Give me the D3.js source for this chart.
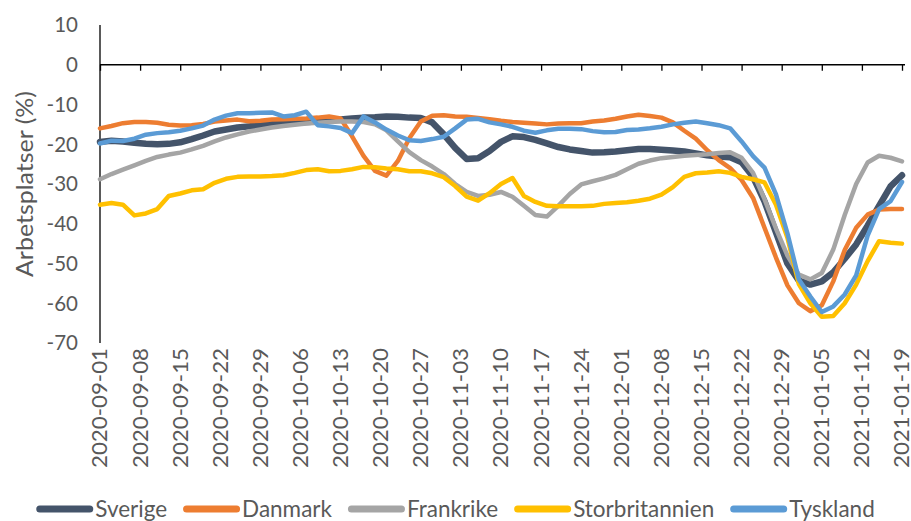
<!DOCTYPE html>
<html>
<head>
<meta charset="utf-8">
<script src="https://cdn.jsdelivr.net/npm/d3@7"></script>
<style>
  body { margin: 0; background: #fff; }
  text { font-family: Lato, 'Open Sans', sans-serif; fill: #595959; }
</style>
</head>
<body>
<div id="chart"></div>
<script>
// every second day from 2020-09-01 to 2021-01-19
let start = new Date(Date.UTC(2020, 8, 1))
let end = new Date(Date.UTC(2021, 0, 19))
let dates = d3.utcDay.range(start, d3.utcDay.offset(end, 1), 2)
let tickDates = d3.utcDay.range(start, d3.utcDay.offset(end, 1), 7)

let yTicks = [10, 0, -10, -20, -30, -40, -50, -60, -70]

let names = ['Sverige', 'Danmark', 'Frankrike', 'Storbritannien', 'Tyskland']

let sverige = [
  -19.4, -19.1, -19.3, -19.6, -19.9, -20, -19.9, -19.5, -18.7, -17.8,
  -16.8, -16.3, -15.8, -15.5, -15.2, -14.9, -14.6, -14.5, -14.4, -14.3,
  -14, -13.8, -13.5, -13.3, -13.2, -13, -13.1, -13.3, -13.4, -14.5,
  -17.5, -20.9, -23.7, -23.5, -21.7, -19.4, -18, -18.2, -18.9, -19.8,
  -20.7, -21.3, -21.7, -22.1, -22, -21.8, -21.5, -21.2, -21.2, -21.4,
  -21.6, -21.8, -22.3, -22.8, -23.1, -23.3, -24.5, -28.2, -34.4, -42.2,
  -50, -54.3, -55.3, -54.5, -52.2, -48.8, -45.2, -40.5, -35.5, -30.6, -27.8
]
let danmark = [
  -16, -15.4, -14.7, -14.4, -14.4, -14.6, -15.1, -15.3, -15.2, -14.9,
  -14.3, -14, -13.8, -14.2, -14.1, -13.8, -13.7, -13.6, -13.5, -13.3,
  -13, -13.5, -18, -22.9, -26.7, -27.9, -24.2, -18.5, -14.3, -12.8,
  -12.7, -13, -13.1, -13.4, -13.7, -14.1, -14.4, -14.6, -14.8, -15,
  -14.8, -14.7, -14.7, -14.3, -14, -13.6, -13, -12.6, -12.9, -13.3,
  -14.5, -16.6, -18.6, -21.5, -24, -26, -29, -33.5, -41, -48.5,
  -55.5, -60, -62, -60.5, -54.5, -46.6, -41, -37.7, -36.4, -36.3, -36.3
]
let frankrike = [
  -28.8, -27.5, -26.4, -25.3, -24.2, -23.2, -22.6, -22.1, -21.3, -20.4,
  -19.3, -18.3, -17.5, -16.8, -16.3, -15.8, -15.4, -15.1, -14.8, -14.6,
  -14.4, -14.3, -14.3, -14.4, -15, -16.5, -19.3, -22, -24, -25.6,
  -27.5, -30, -32, -33, -32.7, -32, -33.2, -35.5, -37.8, -38.2,
  -35.5, -32.5, -30.1, -29.3, -28.6, -27.7, -26.3, -24.9, -24.1, -23.5,
  -23.2, -22.9, -22.7, -22.5, -22.2, -22, -23.4, -27.2, -33.8, -41.2,
  -48, -52.8, -54, -52.4, -46.5, -37.8, -30, -24.6, -22.9, -23.4, -24.3
]
let storbritannien = [
  -35.2, -34.8, -35.2, -37.9, -37.4, -36.3, -33, -32.4, -31.6, -31.3,
  -29.7, -28.7, -28.2, -28.1, -28.1, -28, -27.8, -27.2, -26.5, -26.3,
  -26.8, -26.7, -26.3, -25.7, -25.8, -26.1, -26.3, -26.8, -26.8, -27.3,
  -28.3, -30.5, -33.2, -34.2, -32.3, -30, -28.5, -33, -34.5, -35.5,
  -35.6, -35.6, -35.6, -35.5, -35, -34.8, -34.6, -34.2, -33.7, -32.7,
  -30.8, -28.2, -27.3, -27.1, -26.8, -27.2, -28.2, -28.8, -29.6, -35.2,
  -43.5, -55.2, -60, -63.4, -63.2, -60, -55.3, -49.4, -44.4, -44.8, -45
]
let tyskland = [
  -19.8, -19.1, -19.2, -18.6, -17.6, -17.2, -17, -16.6, -16, -15.3,
  -13.8, -12.8, -12.2, -12.2, -12.1, -12, -13, -12.7, -11.8, -15.2,
  -15.5, -15.9, -17.2, -13, -14.5, -16.3, -17.8, -19, -19.2, -18.7,
  -18.1, -16, -13.8, -13.6, -14.5, -15, -15.6, -16.6, -17.1, -16.5,
  -16.1, -16.1, -16.2, -16.7, -17, -16.9, -16.4, -16.3, -16, -15.6,
  -15, -14.6, -14.3, -14.7, -15.2, -16, -19.3, -23, -25.9, -32.6,
  -42.4, -54, -58.3, -62.2, -60.8, -57.8, -53, -43, -36.3, -34.3, -29.5
]

let colors = ['#44546A', '#ED7D31', '#A5A5A5', '#FFC000', '#5B9BD5']
let widths = [6.5, 4.5, 4.5, 4.5, 4.5]

let series = [sverige, danmark, frankrike, storbritannien, tyskland].map((vals, i) => ({
  name: names[i],
  color: colors[i],
  width: widths[i],
  values: vals.map((v, j) => ({ date: dates[j], value: v }))
}))

let width = 911
let height = 521

let svg = d3
  .select('#chart')
  .append('svg')
  .attr('width', width)
  .attr('height', height)

// scales

let x = d3
  .scaleUtc()
  .domain([start, end])
  .range([100, 902])

let y = d3
  .scaleLinear()
  .domain([-70, 10])
  .range([343, 25])

// y axis

svg
  .append('line')
  .attr('x1', x.range()[0])
  .attr('x2', x.range()[0])
  .attr('y1', y(10))
  .attr('y2', y(-70))
  .attr('stroke', '#000')
  .attr('stroke-width', 1.3)

svg
  .selectAll('.y-label')
  .data(yTicks)
  .enter()
  .append('text')
  .attr('class', 'y-label')
  .attr('x', 78)
  .attr('y', d => y(d))
  .attr('dy', '0.36em')
  .attr('text-anchor', 'end')
  .attr('font-size', 20.5)
  .text(d => d)

svg
  .append('text')
  .attr('transform', 'translate(33, 184) rotate(-90)')
  .attr('text-anchor', 'middle')
  .attr('font-size', 23)
  .attr('textLength', 186)
  .attr('lengthAdjust', 'spacingAndGlyphs')
  .text('Arbetsplatser (%)')

// zero line with weekly ticks

let zeroAxis = svg
  .append('g')
  .attr('transform', `translate(0, ${y(0)})`)
  .call(
    d3
      .axisBottom(x)
      .tickValues(tickDates)
      .tickSize(6)
      .tickSizeOuter(0)
      .tickFormat('')
  )
zeroAxis.selectAll('path, line').attr('stroke', '#000').attr('stroke-width', 1.3)
zeroAxis.select('.domain').attr('d', `M${x.range()[0]},0H905`)

// date labels, low position

let dateAxis = svg
  .append('g')
  .attr('transform', 'translate(0, 348)')
  .call(
    d3
      .axisBottom(x)
      .tickValues(tickDates)
      .tickSize(0)
      .tickFormat(d3.utcFormat('%Y-%m-%d'))
  )
dateAxis.select('.domain').remove()
dateAxis
  .selectAll('text')
  .attr('transform', 'rotate(-90)')
  .attr('x', 0)
  .attr('y', 0)
  .attr('dy', '0.33em')
  .attr('text-anchor', 'end')
  .attr('font-size', 21)
  .attr('font-family', 'Lato, sans-serif')
  .attr('fill', '#595959')
  .attr('textLength', 120)
  .attr('lengthAdjust', 'spacingAndGlyphs')

// lines

let line = d3
  .line()
  .x(d => x(d.date))
  .y(d => y(d.value))

svg
  .selectAll('.series')
  .data(series)
  .enter()
  .append('path')
  .attr('class', 'series')
  .attr('d', d => line(d.values))
  .attr('fill', 'none')
  .attr('stroke', d => d.color)
  .attr('stroke-width', d => d.width)
  .attr('stroke-linejoin', 'round')
  .attr('stroke-linecap', 'round')

// legend

let legend = svg.append('g').attr('class', 'legend')

let entries = legend
  .selectAll('.legend-entry')
  .data(series)
  .enter()
  .append('g')
  .attr('class', 'legend-entry')

entries
  .append('line')
  .attr('x1', 3.5)
  .attr('x2', 53.5)
  .attr('y1', 0)
  .attr('y2', 0)
  .attr('stroke', d => d.color)
  .attr('stroke-width', 7)
  .attr('stroke-linecap', 'round')

entries
  .append('text')
  .attr('x', 59)
  .attr('dy', '0.35em')
  .attr('font-size', 22.5)
  .text(d => d.name)

let offset = 0
entries.each(function() {
  let g = d3.select(this)
  let w = g.select('text').node().getComputedTextLength()
  g.attr('transform', `translate(${offset}, 0)`)
  offset += 59 + w + 16
})
let total = offset - 16
legend.attr('transform', `translate(${(width - total) / 2}, 509)`)
</script>
</body>
</html>
